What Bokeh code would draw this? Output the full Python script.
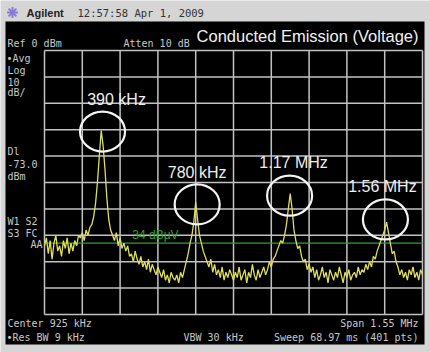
import numpy as np
from bokeh.plotting import figure
from bokeh.models import Range1d, Label, ColumnDataSource
from bokeh.core.properties import value
from bokeh.embed import file_html
from bokeh.resources import INLINE

# ---------------- data ----------------
F_START, F_STOP = 150.0, 1700.0      # kHz (Center 925 kHz, Span 1.55 MHz)
REF_DBM, DB_PER_DIV, N_DIV = 0.0, 10.0, 10
DISPLAY_LINE_DBM = -73.0             # = 34 dBuV

trace_dbm = [
    -74, -71, -77, -72, -79, -73, -70, -76, -74, -78, -72, -75, -71, -77, -73, -76, -72, -74, -70,
    -71, -69, -72, -68, -70, -67,
    -66, -63, -58, -50, -40,
    -30.3,
    -36, -45, -56, -64, -68,
    -70, -72, -69, -74, -71, -75, -73,
    -76, -74, -78, -77, -80, -76, -79, -81, -78, -82, -80, -83, -79, -84, -81, -83, -85, -82,
    -84, -86, -83, -87, -85, -88, -84, -86, -87, -85, -88, -84, -86, -83,
    -80, -77, -73, -70, -65,
    -57.5,
    -64, -70, -73, -76, -78,
    -80, -82, -79, -84, -81, -85, -83, -86, -82, -87, -84, -86, -83, -85, -87,
    -84, -86, -82, -87, -85, -83, -88, -84, -86, -81, -85, -87, -83, -86, -84, -82, -85, -83, -80, -82,
    -79, -78, -76, -74, -72,
    -73, -70, -66, -60,
    -54.2,
    -60, -68, -72, -75, -74,
    -78, -80, -79, -83, -81,
    -84, -82, -86, -83, -87, -85, -82, -86, -84, -88, -83, -85, -87, -84, -86,
    -82, -85, -88, -84, -86, -83, -87, -85, -84, -86, -82, -85, -83, -84, -81,
    -83, -80, -82, -78, -79,
    -76, -74, -72, -70, -68,
    -65,
    -69, -73, -77, -76, -80,
    -82, -85, -83, -86, -84, -87, -83, -85, -82, -86, -84, -87, -83, -85,
]
trace_khz = np.linspace(F_START, F_STOP, len(trace_dbm))

marker_labels = ["390 kHz", "780 kHz", "1.17 MHz", "1.56 MHz"]
marker_khz = [388, 776, 1155, 1548]
marker_dbm = [-30.7, -58.3, -55.0, -64.0]

freq_grid = [150, 305, 460, 615, 770, 925, 1080, 1235, 1390, 1545, 1700]
db_grid = [0, -10, -20, -30, -40, -50, -60, -70, -80, -90, -100]

# ---------------- layout (pixels) ----------------
W, H = 430, 352
GX0, GX1, GY0, GY1 = 44, 422, 50, 314
kpp = (F_STOP - F_START) / (GX1 - GX0)
dpp = (DB_PER_DIV * N_DIV) / (GY1 - GY0)
db_bottom_grid = REF_DBM - DB_PER_DIV * N_DIV

p = figure(width=W, height=H, x_range=Range1d(0, W), y_range=Range1d(H, 0),
           output_backend="svg", toolbar_location=None,
           x_axis_location=None, y_axis_location=None, min_border=0)
p.grid.visible = False
p.outline_line_color = None
p.background_fill_color = "#d5d5d5"
p.border_fill_color = "#d5d5d5"

p.extra_x_ranges = {"f": Range1d(F_START - GX0 * kpp, F_STOP + (W - GX1) * kpp)}
p.extra_y_ranges = {"db": Range1d(db_bottom_grid - (H - GY1) * dpp, REF_DBM + GY0 * dpp)}

# black instrument screen
p.quad(left=[5], right=[424], top=[21], bottom=[344], fill_color="#000000", line_color=None)

# graticule
n = len(freq_grid)
p.segment(x0=freq_grid, y0=[db_bottom_grid] * n, x1=freq_grid, y1=[REF_DBM] * n,
          x_range_name="f", y_range_name="db", line_color="#c2c2c2", line_width=1.5)
m = len(db_grid)
p.segment(x0=[F_START] * m, y0=db_grid, x1=[F_STOP] * m, y1=db_grid,
          x_range_name="f", y_range_name="db", line_color="#c2c2c2", line_width=1.5)

# display line
p.segment(x0=[F_START], y0=[DISPLAY_LINE_DBM], x1=[F_STOP], y1=[DISPLAY_LINE_DBM],
          x_range_name="f", y_range_name="db", line_color="#2fa02f", line_width=1.2)
p.text(x=[605], y=[DISPLAY_LINE_DBM], text=["34 dB\u03bcV"], x_range_name="f", y_range_name="db",
       text_color="#2fa02f", text_font=value("Liberation Sans"), text_font_size="12px",
       text_align="center", text_baseline="bottom", y_offset=[-1])

# trace
p.line(trace_khz, trace_dbm, x_range_name="f", y_range_name="db",
       line_color="#dede5a", line_width=1.3)

# markers
src = ColumnDataSource(dict(f=marker_khz, d=marker_dbm, t=marker_labels,
                            xo=[14, 0, 4, -3], yo=[-32, -32, -33, -33]))
p.ellipse(x="f", y="d", width=45, height=40, width_units="screen", height_units="screen",
          source=src, x_range_name="f", y_range_name="db",
          fill_color=None, line_color="#f4f4f4", line_width=2.2)
p.text(x="f", y="d", text="t", x_offset="xo", y_offset="yo", source=src,
       x_range_name="f", y_range_name="db", text_color="#eeeeee",
       text_font=value("Liberation Sans"), text_font_size="16px",
       text_align="center", text_baseline="middle")

# header
p.scatter(x=[12], y=[12], marker="asterisk", size=11, line_color="#8a78e0", line_width=2)
p.add_layout(Label(x=26, y=12, text="Agilent", text_font="Liberation Sans", text_font_style="bold",
                   text_font_size="11px", text_color="#222222", text_baseline="middle"))
p.add_layout(Label(x=77, y=12, text="12:57:58  Apr 1, 2009", text_font="DejaVu Sans Mono",
                   text_font_size="10.5px", text_color="#333333", text_baseline="middle"))
p.add_layout(Label(x=418, y=35, text="Conducted Emission (Voltage)", text_font="Liberation Sans",
                   text_font_size="16.5px", text_color="#f2f2f2", text_baseline="middle",
                   text_align="right"))

mono = dict(text_font="DejaVu Sans Mono", text_font_size="10px", text_color="#c8c8c8",
            text_baseline="middle")
for x, y, t in [(7, 43, "Ref 0 dBm"), (123, 43, "Atten 10 dB"),
                (6, 58, "\u2022Avg"), (7, 70, "Log"), (7, 81, "10"), (7, 92, "dB/"),
                (7, 151, "Dl"), (7, 163, "-73.0"), (7, 176, "dBm"),
                (7, 221, "W1 S2"), (7, 233, "S3 FC"),
                (7, 323, "Center 925 kHz"), (6, 337, "\u2022Res BW 9 kHz"),
                (183, 337, "VBW 30 kHz")]:
    p.add_layout(Label(x=x, y=y, text=t, **mono))
for x, y, t in [(42, 244, "AA"), (418, 323, "Span 1.55 MHz"),
                (418, 337, "Sweep 68.97 ms (401 pts)")]:
    p.add_layout(Label(x=x, y=y, text=t, text_align="right", **mono))

open("out.html", "w").write(file_html(p, INLINE))
